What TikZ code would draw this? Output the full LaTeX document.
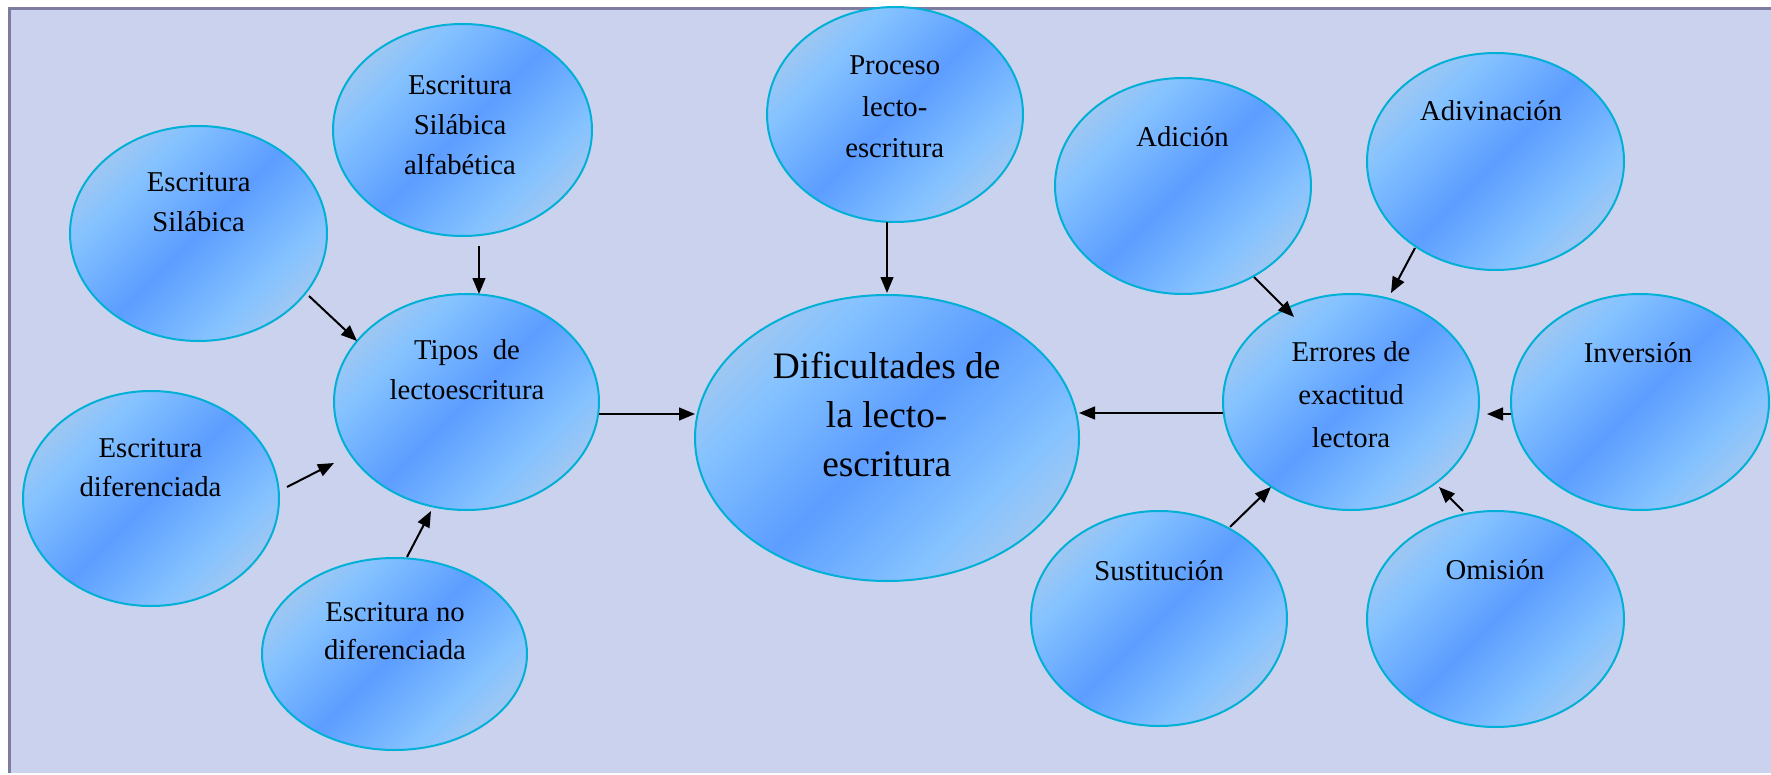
\documentclass[tikz,border=0pt]{standalone}
\usepackage{fontspec}
\setmainfont{Liberation Serif}
\usetikzlibrary{arrows.meta,shapes.geometric}
\definecolor{bgtex}{HTML}{CBD2EE}
\definecolor{framecol}{HTML}{7D7CA0}
\definecolor{ballborder}{HTML}{00B0D6}
\definecolor{ballgray}{HTML}{B9CCE6}
\definecolor{balllight}{HTML}{84C2FF}
\definecolor{balldark}{HTML}{5C9DFF}
\pgfdeclarehorizontalshading{ballgrad}{100bp}{color(0bp)=(ballgray); color(17bp)=(ballgray); color(33bp)=(balllight); color(50bp)=(balldark); color(67bp)=(balllight); color(83bp)=(ballgray); color(100bp)=(ballgray)}
\tikzset{
  ball/.style={ellipse, draw=ballborder, line width=1pt, shading=ballgrad, shading angle=-45, inner sep=0pt},
  txt/.style={align=center, anchor=base, inner sep=0pt, text=black, font=\fontsize{14.35}{20}\selectfont},
  arr/.style={-{Triangle[length=8pt,width=6.4pt]}, line width=1pt, draw=black}
}
\begin{document}
\begin{tikzpicture}[x=0.5pt,y=-0.5pt]
\useasboundingbox (0,0) rectangle (1771,775);
\fill[white] (0,0) rectangle (1771,775);
\fill[bgtex] (8,7) rectangle (1771,773);
\fill[framecol] (8,7) rectangle (1771,10);
\fill[framecol] (8,7) rectangle (11,773);

% ellipses
\node[ball, minimum width=128.5pt, minimum height=107.5pt] (silab) at (198.5,233.5) {};
\node[ball, minimum width=129.5pt, minimum height=106pt] (alfab) at (462.5,130) {};
\node[ball, minimum width=132.5pt, minimum height=108pt] (tipos) at (466.5,402) {};
\node[ball, minimum width=128pt, minimum height=107.5pt] (difer) at (151,498.5) {};
\node[ball, minimum width=132.5pt, minimum height=96pt] (nodif) at (394.5,654) {};
\node[ball, minimum width=192pt, minimum height=143pt] (dif) at (887,438) {};
\node[ball, minimum width=128pt, minimum height=107.5pt] (proceso) at (895,114.5) {};
\node[ball, minimum width=128pt, minimum height=108pt] (adicion) at (1183,186) {};
\node[ball, minimum width=128.5pt, minimum height=108.5pt] (adivin) at (1495.5,161.5) {};
\node[ball, minimum width=128pt, minimum height=108pt] (errores) at (1351,402) {};
\node[ball, minimum width=129pt, minimum height=108pt] (inversion) at (1640,402) {};
\node[ball, minimum width=128pt, minimum height=107.5pt] (sustit) at (1159,618.5) {};
\node[ball, minimum width=128.5pt, minimum height=108pt] (omision) at (1495.5,619) {};

% texts (anchor = baseline of the last line)
\node[txt] (t-silab) at (198.7,232) {Escritura\\Silábica};
\node[txt] (t-alfab) at (460,175) {Escritura\\Silábica\\alfabética};
\node[txt] (t-tipos) at (467,399) {Tipos\ \ de\\lectoescritura};
\node[txt, font=\fontsize{14.35}{19.5}\selectfont] (t-difer) at (150.5,496) {Escritura\\diferenciada};
\node[txt, font=\fontsize{14.35}{19}\selectfont] (t-nodif) at (395,659) {Escritura no\\diferenciada};
\node[txt, font=\fontsize{14.35}{20.75}\selectfont] (t-proceso) at (894.7,158) {Proceso\\lecto-\\escritura};
\node[txt, font=\fontsize{18.7}{24.5}\selectfont] (t-dif) at (886.7,476) {Dificultades de\\la lecto-\\escritura};
\node[txt] (t-adicion) at (1182.5,147) {Adición};
\node[txt] (t-adivin) at (1491,121) {Adivinación};
\node[txt, font=\fontsize{14.35}{21.5}\selectfont] (t-errores) at (1351,447) {Errores de\\exactitud\\lectora};
\node[txt] (t-inversion) at (1638,362) {Inversión};
\node[txt] (t-sustit) at (1159,580) {Sustitución};
\node[txt] (t-omision) at (1495,579) {Omisión};

% connectors
\draw[arr] ([shift={(110.5,62.5)}]silab.center) -- ([shift={(-109.5,-61)}]tipos.center);
\draw[arr] ([shift={(16.5,116)}]alfab.center) -- ([shift={(12.5,-108)}]tipos.center);
\draw[arr] ([shift={(136,-11.5)}]difer.center) -- ([shift={(-132.5,61)}]tipos.center);
\draw[arr] ([shift={(12.5,-97)}]nodif.center) -- ([shift={(-35.5,109)}]tipos.center);
\draw[arr] ([shift={(132.5,12)}]tipos.center) -- ([shift={(-192,-24)}]dif.center);
\draw[arr] ([shift={(-8,107.5)}]proceso.center) -- ([shift={(0,-145)}]dif.center);
\draw[arr] ([shift={(-128,11)}]errores.center) -- ([shift={(192,-25)}]dif.center);
\draw[arr] ([shift={(71,91)}]adicion.center) -- ([shift={(-57,-85)}]errores.center);
\draw[arr] ([shift={(-80.5,86.5)}]adivin.center) -- ([shift={(40,-109)}]errores.center);
\draw[arr] ([shift={(-129,12)}]inversion.center) -- ([shift={(136,12)}]errores.center);
\draw[arr] ([shift={(71,-91.5)}]sustit.center) -- ([shift={(-80,85)}]errores.center);
\draw[arr] ([shift={(-32.5,-108)}]omision.center) -- ([shift={(88,85)}]errores.center);
\end{tikzpicture}
\end{document}
